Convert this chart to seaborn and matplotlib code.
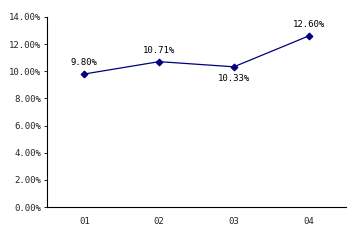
import matplotlib
matplotlib.use("Agg")
import matplotlib.pyplot as plt
import seaborn as sns
import pandas as pd

categories = ["01", "02", "03", "04"]
values = [9.80, 10.71, 10.33, 12.60]
labels = ["9.80%", "10.71%", "10.33%", "12.60%"]
yticks = [0, 2, 4, 6, 8, 10, 12, 14]

sns.set_style("white")
plt.rcParams['font.family'] = ['DejaVu Sans Mono']

df = pd.DataFrame({"x": range(len(categories)), "y": values})

fig = plt.figure(figsize=(3.63, 2.42), dpi=100)
ax = fig.add_axes([0.1295, 0.1446, 0.8237, 0.7852])
sns.lineplot(data=df, x="x", y="y", ax=ax, color="#000080", marker="D",
             markersize=3.5, markeredgecolor="#000080", linewidth=0.9)

ax.set_xlim(-0.5, 3.5)
ax.set_ylim(0, 14)
ax.set_yticks(yticks)
ax.set_yticklabels([f"{v:.2f}%" for v in yticks], fontsize=6.5)
ax.set_xticks([0.5, 1.5, 2.5, 3.5])
ax.set_xticklabels([])
ax.set_xticks(range(len(categories)), minor=True)
ax.set_xticklabels(categories, minor=True, fontsize=6.5)
ax.tick_params(axis="x", which="major", direction="in", length=2, width=0.6, color="black")
ax.tick_params(axis="x", which="minor", length=0, pad=7)
ax.tick_params(axis="y", direction="out", length=2, width=0.6, color="black", pad=2, left=True)
ax.set_xlabel("")
ax.set_ylabel("")
for s in ["top", "right"]:
    ax.spines[s].set_visible(False)
for s in ["left", "bottom"]:
    ax.spines[s].set_color("black")
    ax.spines[s].set_linewidth(0.8)

offsets = [(0, 0.5, "bottom"), (0, 0.5, "bottom"), (0, -0.5, "top"), (0, 0.5, "bottom")]
for i, (v, lab) in enumerate(zip(values, labels)):
    dx, dy, va = offsets[i]
    ax.text(i + dx, v + dy, lab, ha="center", va=va, fontsize=6.5, color="black")

fig.savefig("out.png", dpi=100)
